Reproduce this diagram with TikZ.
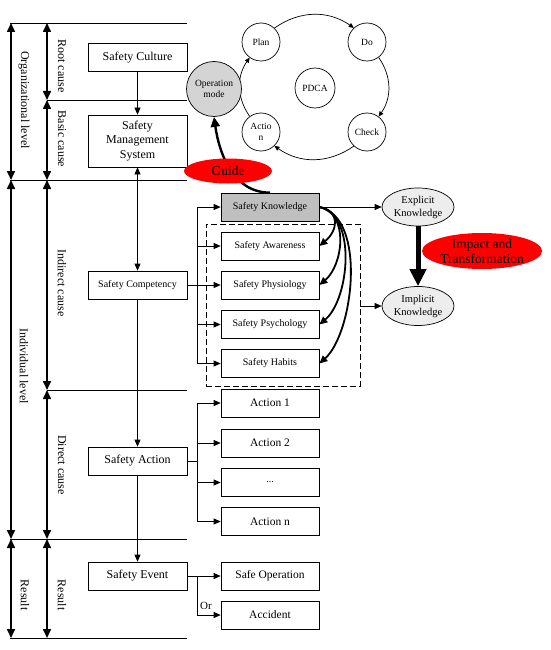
\documentclass[tikz,border=0pt]{standalone}
\usepackage{fontspec}
\setmainfont{Liberation Serif}
\usetikzlibrary{arrows.meta,shapes.geometric}
\newcommand\myfs[2]{\fontsize{#1}{#2}\selectfont}
\begin{document}
\begin{tikzpicture}[x=1pt,y=1pt,
  box/.style={draw,rectangle,minimum width=99pt,minimum height=28pt,inner sep=1pt,align=center,line width=0.7pt},
  rbox/.style={box,minimum width=98pt},
  pd/.style={draw,circle,minimum size=38pt,inner sep=0pt,align=center,line width=0.7pt,font=\myfs{9.5}{11.5}},
  ell/.style={draw,ellipse,fill=black!7,minimum width=72pt,minimum height=38pt,inner sep=0pt,align=center,line width=0.7pt,font=\myfs{10.5}{13}},
  redell/.style={ellipse,fill=red,inner sep=0pt,align=center,font=\myfs{13.5}{15}},
  arr/.style={line width=0.7pt,-{Triangle[length=7pt,width=6pt]}},
  darr/.style={line width=0.7pt,{Triangle[length=7pt,width=6pt]}-{Triangle[length=7pt,width=6pt]}},
  dbl/.style={line width=1.6pt,{Triangle[length=9pt,width=8pt]}-{Triangle[length=9pt,width=8pt]}},
  parr/.style={line width=0.7pt,-{Triangle[length=5pt,width=4.5pt]}},
  carr/.style={line width=1.8pt,-{Triangle[length=8pt,width=7pt]}},
  lbl/.style={rotate=-90,font=\myfs{12}{14}},
  hl/.style={line width=0.7pt}
]
\useasboundingbox (0,0) rectangle (550,-650);

% level lines
\draw[hl] (10,-23) -- (187,-23);
\draw[hl] (47,-100) -- (187,-100);
\draw[hl] (10,-180) -- (187,-180);
\draw[hl] (47,-390) -- (187,-390);
\draw[hl] (10,-539) -- (187,-539);
\draw[hl] (10,-638) -- (187,-638);

% level arrows
\draw[dbl] (11,-23) -- (11,-180);
\draw[dbl] (11,-180) -- (11,-539);
\draw[dbl] (11,-539) -- (11,-638);
\draw[dbl] (47,-23) -- (47,-100);
\draw[dbl] (47,-100) -- (47,-180);
\draw[dbl] (47,-180) -- (47,-390);
\draw[dbl] (47,-390) -- (47,-539);
\draw[dbl] (47,-539) -- (47,-638);

\node[lbl] (lorg) at (24,-100) {Organizational level};
\node[lbl] (lind) at (24,-366) {Individual level};
\node[lbl] (lres1) at (25,-595) {Result};
\node[lbl] (lroot) at (62,-66) {Root cause};
\node[lbl] (lbasic) at (62,-139) {Basic cause};
\node[lbl] (lindir) at (62,-283) {Indirect cause};
\node[lbl] (ldir) at (62,-465) {Direct cause};
\node[lbl] (lres2) at (62,-595) {Result};

% left column
\node[box,font=\myfs{12}{14}] (SC) at (137.5,-57.5) {Safety Culture};
\node[box,minimum height=52pt,font=\myfs{12}{14.5}] (SMS) at (137.5,-141) {Safety\\Management\\System};
\node[box,font=\myfs{10}{12}] (Comp) at (137.5,-285) {Safety Competency};
\node[box,font=\myfs{12}{14}] (Act) at (137.5,-461) {Safety Action};
\node[box,font=\myfs{12}{14}] (Ev) at (137.5,-576) {Safety Event};

\draw[arr] (SC) -- (SMS);
\draw[darr] (SMS) -- (Comp);
\draw[arr] (Comp) -- (Act);
\draw[arr] (Act) -- (Ev);

% right column
\node[rbox,fill=black!25,font=\myfs{10}{12}] (K) at (270,-207) {Safety Knowledge};
\node[rbox,font=\myfs{10}{12}] (Aw) at (270,-246) {Safety Awareness};
\node[rbox,font=\myfs{10}{12}] (Ph) at (270,-285) {Safety Physiology};
\node[rbox,font=\myfs{10}{12}] (Ps) at (270,-324.5) {Safety Psychology};
\node[rbox,font=\myfs{10}{12}] (Ha) at (270,-363.5) {Safety Habits};
\node[draw,dashed,dash pattern=on 6pt off 3pt,line width=0.9pt,minimum width=154pt,minimum height=162pt,inner sep=0pt] (DB) at (283,-305) {};

\node[rbox,font=\myfs{11.5}{13}] (A1) at (270,-403) {Action 1};
\node[rbox,font=\myfs{11.5}{13}] (A2) at (270,-443) {Action 2};
\node[rbox,font=\myfs{10}{12}] (Ad) at (270,-482.5) {...};
\node[rbox,font=\myfs{11.5}{13}] (An) at (270,-521.5) {Action n};
\node[rbox,font=\myfs{11.5}{13}] (SO) at (270,-576) {Safe Operation};
\node[rbox,font=\myfs{11.5}{13}] (Acc) at (270,-615) {Accident};

\coordinate (bus) at (197,0);
% competency bus
\draw[arr] (Comp.east) -- (Ph.west);
\draw[arr] (bus |- Ha.west) |- (K.west);
\draw[arr] (bus |- Aw.west) -- (Aw.west);
\draw[arr] (bus |- Ps.west) -- (Ps.west);
\draw[arr] (bus |- Ha.west) -- (Ha.west);
% action bus
\draw[hl] (Act.east) -- (bus |- Act.east);
\draw[arr] (bus |- An.west) |- (A1.west);
\draw[arr] (bus |- A2.west) -- (A2.west);
\draw[arr] (bus |- Ad.west) -- (Ad.west);
\draw[arr] (bus |- An.west) -- (An.west);
% event
\draw[arr] (Ev.east) -- (SO.west);
\draw[arr] (bus |- SO.west) |- (Acc.west);
\node[font=\myfs{11}{13},inner sep=0pt] (or) at (206,-606) {Or};

% knowledge curves
\draw[carr] (K.east) .. controls +(22,-4) and +(18,15) .. (Aw.east);
\draw[carr] (K.east) .. controls +(30,-6) and +(24,20) .. (Ph.east);
\draw[carr] (K.east) .. controls +(38,-8) and +(30,25) .. (Ps.east);
\draw[carr] (K.east) .. controls +(48,-10) and +(34,30) .. (Ha.east);

% explicit / implicit
\node[ell] (Ex) at (418,-207) {Explicit\\Knowledge};
\node[ell,minimum height=39pt] (Im) at (418,-306) {Implicit\\Knowledge};
\draw[arr] (K.east) -- (Ex.west);
\draw[arr] (DB.east |- Im.west) -- (Im.west);
\draw[line width=5pt,-{Triangle[length=17pt,width=16pt]}] (Ex.south) -- (Im.north);
\node[redell,minimum width=120pt,minimum height=36pt] (IT) at (482,-251) {Impact and\\Transformation};

% PDCA
\node[pd] (Plan) at (261,-42) {Plan};
\node[pd] (Do) at (367,-42) {Do};
\node[pd] (Check) at (367,-132) {Check};
\node[pd] (ActN) at (261,-132) {Actio\\n};
\node[pd,minimum size=40pt] (PDCA) at (315,-88) {PDCA};
\draw[parr] (Plan.46.5) to[bend left=35] (Do.133.5);
\draw[parr] (Do.-53.3) to[bend left=35] (Check.53.3);
\draw[parr] (Check.-133.5) to[bend left=35] (ActN.-46.5);
\draw[parr] (ActN.126.7) to[bend left=35] (Plan.-126.7);
\node[pd,fill=black!17,minimum size=55pt] (Op) at (214,-89) {Operation\\mode};

% guide
\draw[line width=2.4pt,-{Triangle[length=10pt,width=9pt]}] (K.north) to[out=180,in=-82] (Op.south);
\node[redell,minimum width=88pt,minimum height=25pt] (G) at (228,-171) {Guide};
\end{tikzpicture}
\end{document}
